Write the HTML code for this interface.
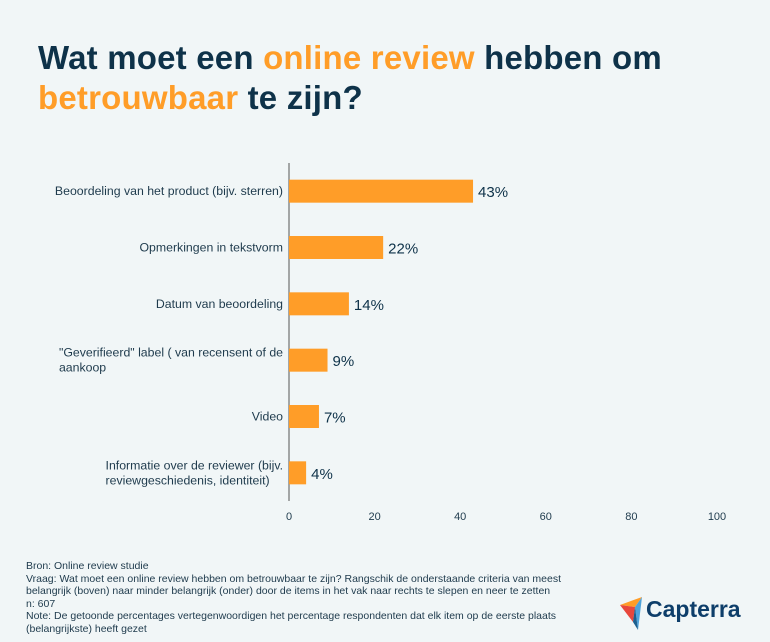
<!DOCTYPE html>
<html><head><meta charset="utf-8"><style>
body{margin:0;width:770px;height:642px;background:#f1f6f7;font-family:"Liberation Sans",sans-serif;overflow:hidden;position:relative}
.t{position:absolute;left:38px;top:38px;font-size:33px;font-weight:bold;color:#0e3249;line-height:40px;letter-spacing:0.2px}
.o{color:#ff9d28}
.foot{position:absolute;left:26px;top:560px;font-size:10.5px;color:#1e3a4c;line-height:12.6px;width:580px}
</style></head><body>
<div class="t">Wat moet een <span class="o">online review</span> hebben om<br><span class="o">betrouwbaar</span> te zijn?</div>
<svg id="c" width="770" height="642" style="position:absolute;left:0;top:0"></svg>
<div class="foot">Bron: Online review studie<br>Vraag: Wat moet een online review hebben om betrouwbaar te zijn? Rangschik de onderstaande criteria van meest belangrijk (boven) naar minder belangrijk (onder) door de items in het vak naar rechts te slepen en neer te zetten<br>n: 607<br>Note: De getoonde percentages vertegenwoordigen het percentage respondenten dat elk item op de eerste plaats (belangrijkste) heeft gezet</div>
<div style="position:absolute;left:620px;top:594px;width:150px;height:40px">
<svg width="40" height="36" style="position:absolute;left:0;top:0"><polygon points="0,11 22,3 15,13" fill="#ff9d28"/><polygon points="0,11 15,13 13,28" fill="#e8473c"/><polygon points="22,3 15,13 18,36" fill="#4fa3db"/><polygon points="15,13 18,36 13,28" fill="#1d5f8e"/></svg>
<span style="position:absolute;left:26px;top:2px;font-size:23px;font-weight:bold;color:#0e3e6a">Capterra</span></div>
<script>
const categories=[["Beoordeling van het product (bijv. sterren)"],["Opmerkingen in tekstvorm"],["Datum van beoordeling"],["\"Geverifieerd\" label ( van recensent of de","aankoop"],["Video"],["Informatie over de reviewer (bijv.","reviewgeschiedenis, identiteit)"]];
const values=[43,22,14,9,7,4];
const ticks=[0,20,40,60,80,100];
const svg=document.getElementById('c');const NS='http://www.w3.org/2000/svg';
const x0=289,x1=717,yTop=163,yBot=501;
const xs=v=>x0+(v/100)*(x1-x0);
const band=(yBot-yTop)/categories.length;
const yc=i=>yTop+band*(i+0.5);
function mk(t,a){const e=document.createElementNS(NS,t);for(const k in a)e.setAttribute(k,a[k]);svg.appendChild(e);return e;}
const ax=mk('line',{x1:x0,x2:x0,y1:yTop,y2:yBot,stroke:'#555',"stroke-width":1});


values.forEach((v,i)=>{
const r=mk('rect',{x:x0,y:yc(i)-11.5,width:xs(v)-x0,height:23,fill:'#ff9d28'});


const l=mk('text',{x:xs(v)+5,y:yc(i)+6,"font-size":15,fill:'#0e3249'});l.textContent=v+'%';


const lines=categories[i];
const t=mk('text',{x:283,"font-size":12.3,fill:'#1e3a4c',"text-anchor":'start'});


const spans=lines.map((s,j)=>{const ts=document.createElementNS(NS,'tspan');ts.setAttribute('y',yc(i)+4+(j-(lines.length-1)/2)*15);ts.textContent=s;t.appendChild(ts);return ts;});
let w=0;spans.forEach(s=>{w=Math.max(w,s.getComputedTextLength());});
spans.forEach(s=>s.setAttribute('x',lines.length>1?283-w:283-s.getComputedTextLength()));
});
ticks.forEach(v=>{const t=mk('text',{x:xs(v),y:520,"font-size":11,fill:'#1e3a4c',"text-anchor":'middle'});t.textContent=v;

});
</script>
</body></html>
